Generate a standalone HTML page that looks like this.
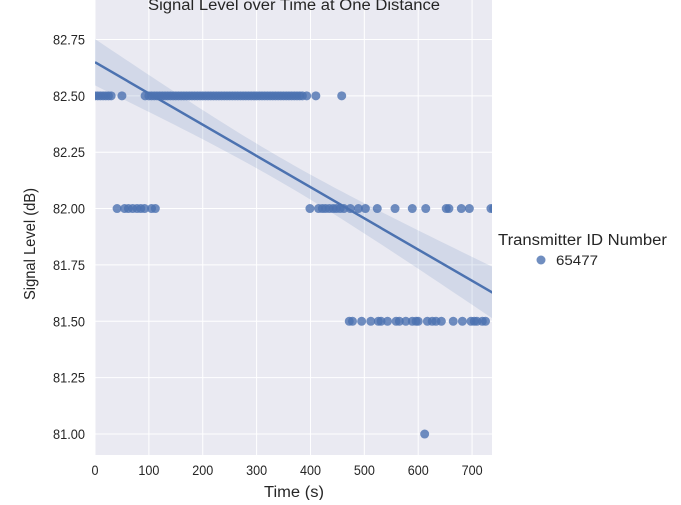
<!DOCTYPE html>
<html><head><meta charset="utf-8"><style>
body{margin:0;background:#fff}
svg text{font-family:"Liberation Sans","DejaVu Sans",sans-serif;fill:#262626}
</style></head><body>
<svg id="c" width="681" height="500"></svg>
<script>
const times82_5=[0,5,10,15,20,25,30,50,93,100,105,110,115,120,125,130,135,140,145,150,155,160,165,170,175,180,185,190,195,200,205,210,215,220,225,230,235,240,245,250,255,260,265,270,275,280,285,290,295,300,305,310,315,320,325,330,335,340,345,350,355,360,365,370,375,380,385,393,410,458];
const times82_0=[41,55,62,70,78,85,92,105,112,399,415,422,428,435,442,448,455,462,474,489,502,524,557,589,614,652,657,680,695,735,740];
const times81_5=[472,478,495,512,526,531,543,559,565,577,589,596,600,617,626,633,643,665,682,698,704,709,719,725];
const times81_0=[612];
const xTicks=[0,100,200,300,400,500,600,700];
const yTicks=[81.00,81.25,81.50,81.75,82.00,82.25,82.50,82.75];
const NS="http://www.w3.org/2000/svg",svg=document.getElementById('c');
const X0=95,X1=492,Y0=0,Y1=455,xmin=0,xmax=737,ymin=80.907,ymax=82.925;
const sx=t=>X0+(t-xmin)/(xmax-xmin)*(X1-X0);
const sy=v=>Y1-(v-ymin)/(ymax-ymin)*(Y1-Y0);
function el(tag,attrs,parent){const e=document.createElementNS(NS,tag);for(const k in attrs)e.setAttribute(k,attrs[k]);(parent||svg).appendChild(e);return e;}
const bg=el('rect',{x:X0,y:Y0,width:X1-X0,height:Y1-Y0,fill:'#eaeaf2'});


xTicks.forEach(t=>{const l=el('line',{x1:sx(t),x2:sx(t),y1:Y0,y2:Y1,stroke:'#fff','stroke-width':1});


const s=String(t);
const tx=el('text',{x:sx(t)-s.length*3.5,y:475,'font-size':14,textLength:s.length*7,lengthAdjust:'spacingAndGlyphs'});tx.textContent=s;

});
yTicks.forEach(v=>{const l=el('line',{x1:X0,x2:X1,y1:sy(v),y2:sy(v),stroke:'#fff','stroke-width':1});


const tx=el('text',{x:53,y:sy(v)+5,'font-size':14,textLength:32,lengthAdjust:'spacingAndGlyphs'});tx.textContent=v.toFixed(2);

});
const pts=[];
[[times82_5,82.5],[times82_0,82.0],[times81_5,81.5],[times81_0,81.0]].forEach(([ts,v])=>ts.forEach(t=>pts.push([t,v])));
const n=pts.length;let mx=0,my=0;pts.forEach(p=>{mx+=p[0];my+=p[1];});mx/=n;my/=n;
let sxx=0,sxy=0;pts.forEach(p=>{sxx+=(p[0]-mx)**2;sxy+=(p[0]-mx)*(p[1]-my);});
const b=sxy/sxx,a=my-b*mx;let sse=0;pts.forEach(p=>{sse+=(p[1]-a-b*p[0])**2;});
const s=Math.sqrt(sse/(n-2));
const tmin=0,tmax=740;const up=[],lo=[];
for(let i=0;i<=50;i++){const t=tmin+(tmax-tmin)*i/50;const se=2.1*s*Math.sqrt(1/n+(t-mx)**2/sxx);up.push(sx(t)+','+sy(a+b*t+se));lo.unshift(sx(t)+','+sy(a+b*t-se));}
const g=el('g',{'clip-path':'url(#clip)'});
const cp=el('clipPath',{id:'clip'});el('rect',{x:X0,y:Y0,width:X1-X0,height:Y1-Y0},cp);
const band=el('polygon',{points:up.concat(lo).join(' '),fill:'#4c72b0','fill-opacity':0.15},g);


pts.forEach(p=>{const c=el('circle',{cx:sx(p[0]),cy:sy(p[1]),r:4.5,fill:'#4c72b0','fill-opacity':0.8},g);

});
const rl=el('line',{x1:sx(tmin),y1:sy(a+b*tmin),x2:sx(tmax),y2:sy(a+b*tmax),stroke:'#4c72b0','stroke-width':2.5},g);


</script>
<svg width="681" height="500" style="position:absolute;left:0;top:0">
<text x="148" y="10" font-size="15.5" textLength="292" lengthAdjust="spacingAndGlyphs">Signal Level over Time at One Distance</text>
<text x="264" y="497" font-size="15.5" textLength="60" lengthAdjust="spacingAndGlyphs">Time (s)</text>
<text transform="translate(35,300) rotate(-90)" font-size="15.5" textLength="112" lengthAdjust="spacingAndGlyphs">Signal Level (dB)</text>
<text x="498" y="245" font-size="15.5" textLength="169" lengthAdjust="spacingAndGlyphs">Transmitter ID Number</text>
<circle cx="541" cy="260" r="4.5" fill="#4c72b0" fill-opacity="0.8"/>
<text x="556" y="265" font-size="14" textLength="42" lengthAdjust="spacingAndGlyphs">65477</text>
</svg>
</body></html>
